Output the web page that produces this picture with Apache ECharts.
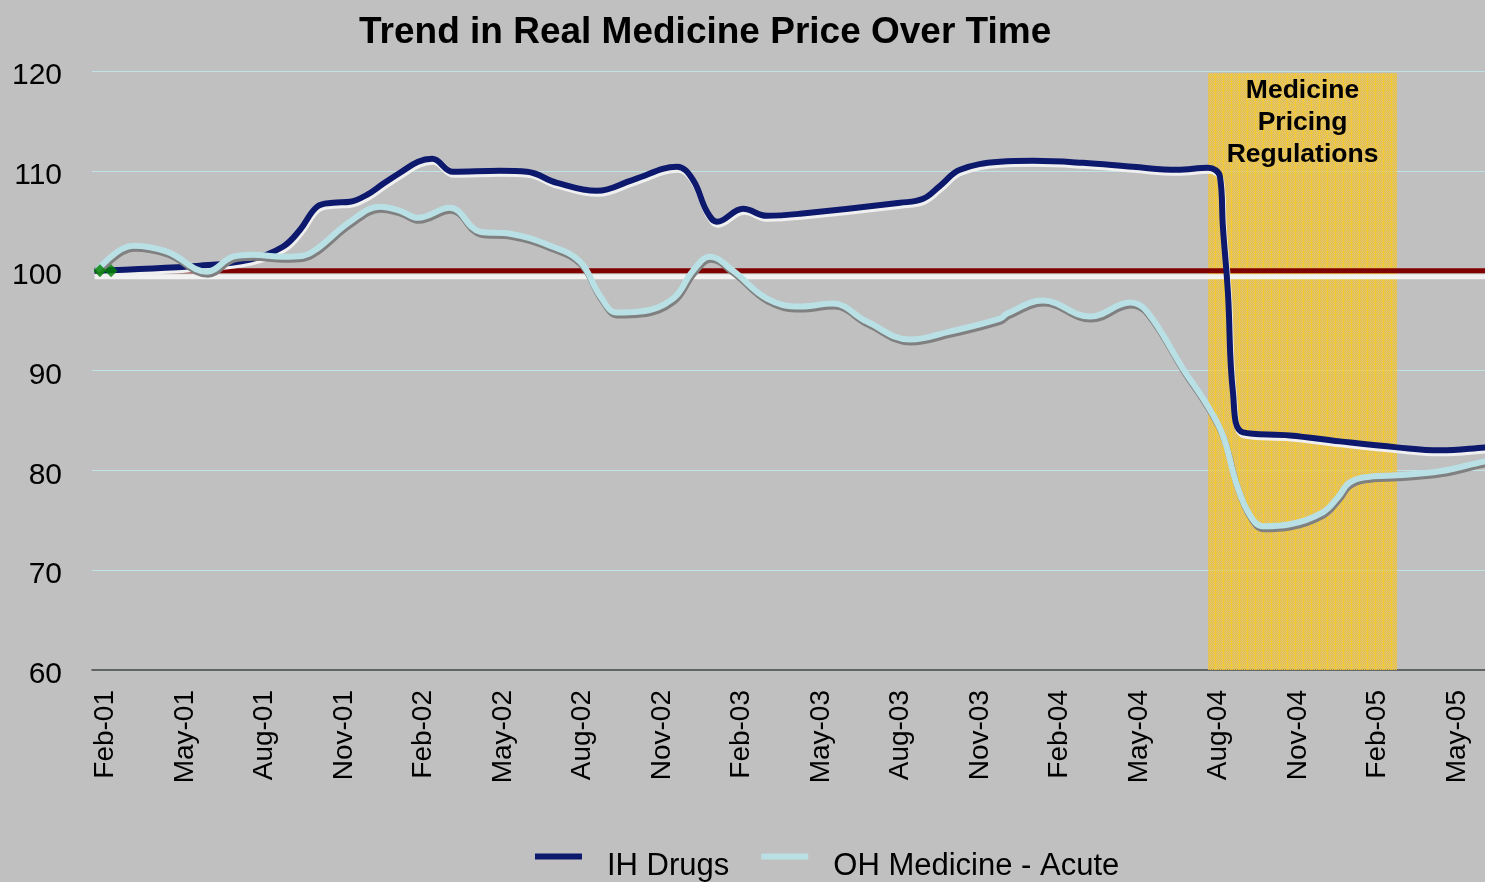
<!DOCTYPE html>
<html>
<head>
<meta charset="utf-8">
<title>Trend in Real Medicine Price Over Time</title>
<script src="https://cdn.jsdelivr.net/npm/echarts@6/dist/echarts.min.js"></script>
<style>
  html, body { margin: 0; padding: 0; background: #c0c0c0; }
  #chart { width: 1485px; height: 882px; }
</style>
</head>
<body>
<div id="chart"></div>
<script>
// monthly categories, Feb-01 .. Jun-05 (labels shown every 3rd month)
const categories = [
  'Feb-01','Mar-01','Apr-01','May-01','Jun-01','Jul-01','Aug-01','Sep-01','Oct-01','Nov-01','Dec-01',
  'Jan-02','Feb-02','Mar-02','Apr-02','May-02','Jun-02','Jul-02','Aug-02','Sep-02','Oct-02','Nov-02','Dec-02',
  'Jan-03','Feb-03','Mar-03','Apr-03','May-03','Jun-03','Jul-03','Aug-03','Sep-03','Oct-03','Nov-03','Dec-03',
  'Jan-04','Feb-04','Mar-04','Apr-04','May-04','Jun-04','Jul-04','Aug-04','Sep-04','Oct-04','Nov-04','Dec-04',
  'Jan-05','Feb-05','Mar-05','Apr-05','May-05','Jun-05'
];

// x = months from start of Feb-01, y = real price index
const ihMonths = [0.1, 4.07, 5.96, 7.2, 7.85, 8.49, 9.09, 9.73, 10.37, 10.98, 11.62, 12.3, 12.83, 13.62,
  15.39, 16.41, 17.54, 19.05, 20.41, 22.07, 22.67, 23.2, 23.58, 24.56, 25.46, 26.71, 30.48, 31.35, 31.99,
  32.74, 34.25, 35.5, 37.38, 39.27, 40.93, 42.1, 42.55, 42.66, 42.85, 43.04, 43.42, 45.19, 47.08, 49.23,
  50.85, 52.55, 53];
const ihValues = [100, 100.5, 101.1, 102.4, 104.1, 106.4, 106.8, 106.9, 107.6, 108.7, 109.8, 110.9, 111.2,
  109.9, 110.0, 109.9, 108.8, 108.0, 109.1, 110.4, 109.1, 105.9, 104.9, 106.2, 105.5, 105.7, 106.8, 107.2,
  108.5, 110.1, 110.9, 111.0, 110.8, 110.4, 110.1, 110.3, 109.4, 104.4, 97.8, 87.8, 83.8, 83.5, 82.9, 82.3,
  82.0, 82.3, 82.4];

const ohMonths = [0.19, 1.55, 2.83, 4.34, 5.32, 6.07, 7.2, 7.96, 8.49, 9.73, 10.86, 11.62, 12.3, 13.5,
  14.64, 15.77, 17.28, 18.41, 19.16, 19.8, 20.67, 21.92, 22.67, 23.31, 24.18, 25.46, 26.71, 27.95, 29.23,
  30.86, 32.36, 34.25, 34.52, 35.87, 37.65, 39.16, 39.8, 41.15, 42.1, 42.66, 43.19, 43.68, 44.17, 45.19,
  46.43, 47.0, 47.45, 48.32, 49.23, 50.85, 52.55, 53];
const ohValues = [100, 102.5, 101.9, 99.9, 101.4, 101.6, 101.4, 101.5, 102.2, 104.9, 106.4, 106.0, 105.3,
  106.3, 103.9, 103.7, 102.5, 100.9, 97.5, 95.8, 95.9, 97.2, 100.0, 101.4, 100.0, 97.2, 96.4, 96.7, 94.9,
  93.1, 93.9, 95.2, 95.7, 97.0, 95.4, 96.8, 95.9, 90.2, 86.4, 83.5, 78.5, 75.5, 74.4, 74.6, 75.8, 77.3,
  78.8, 79.4, 79.5, 79.9, 80.9, 81.0];

const baseMonths = [0.1, 53];
const baseValues = [100, 100];
const startMarkers = [[0.3, 100], [0.72, 100]];
const regulationSpan = [42.1, 49.23];
const regulationTop = 119.8;

function pairs(xs, ys) { return xs.map((x, i) => [x, ys[i]]); }

// dithered gold grid fill for the regulation band (lets the lines show through)
function bandPattern() {
  const c = document.createElement('canvas');
  c.width = 8; c.height = 7;
  const g = c.getContext('2d');
  for (let y = 0; y < 7; y++) {
    for (let x = 0; x < 8; x++) {
      if (x === 7) {
        g.fillStyle = 'rgba(255,204,10,0.8)';
      } else if (y === 6) {
        g.fillStyle = 'rgba(250,200,30,0.7)';
      } else if ((x + y) % 2 === 0) {
        g.fillStyle = 'rgba(242,196,56,1)';
      } else {
        g.fillStyle = 'rgba(242,196,56,0.45)';
      }
      g.fillRect(x, y, 1, 1);
    }
  }
  return c;
}

const font = "'Liberation Sans', Arial, sans-serif";
const chart = echarts.init(document.getElementById('chart'));

chart.setOption({
  backgroundColor: '#c0c0c0',
  animation: false,
  title: {
    text: 'Trend in Real Medicine Price Over Time',
    left: 354, top: 9,
    textStyle: { fontFamily: font, fontSize: 37, fontWeight: 'bold', color: '#000' }
  },
  legend: {
    left: 535, top: 851, padding: 0,
    // thin bar sitting in the upper part of the item box, as in the original
    icon: 'path://M0,0H47V6H0Z M0,26H0.01V26.01H0Z',
    itemWidth: 47, itemHeight: 26, itemGap: 32,
    data: ['IH Drugs', 'OH Medicine - Acute'],
    textStyle: { fontFamily: font, fontSize: 31, color: '#000', padding: [0, 0, 0, 20] }
  },
  grid: { left: 92, top: 71, width: 1405, height: 599, outerBoundsMode: 'none' },
  xAxis: [{
    type: 'category',
    data: categories,
    boundaryGap: true,
    axisLine: { lineStyle: { color: '#404040', width: 1.5 } },
    axisTick: { interval: 2, length: 8, lineStyle: { color: '#202020' } },
    axisLabel: { interval: 2, rotate: 90, margin: 20, fontFamily: font, fontSize: 28, color: '#000' },
    splitLine: { show: false }
  }, {
    type: 'value', min: 0, max: 53, show: false
  }],
  yAxis: {
    type: 'value', min: 60, max: 120, interval: 10,
    axisLine: { show: false }, axisTick: { show: false },
    axisLabel: { margin: 30, fontFamily: font, fontSize: 30, color: '#000', verticalAlign: 'top', lineHeight: 10 },
    splitLine: { lineStyle: { color: '#bfe4e8', width: 1 } }
  },
  series: [{
    name: 'base', type: 'line', xAxisIndex: 1,
    data: pairs(baseMonths, baseValues),
    symbol: 'none', silent: true, z: 2,
    lineStyle: { color: '#800000', width: 5, shadowColor: '#f2f2f2', shadowOffsetY: 6, shadowBlur: 0 }
  }, {
    name: 'IH Drugs', type: 'line', xAxisIndex: 1,
    data: pairs(ihMonths, ihValues),
    smooth: 0.4, symbol: 'none', z: 3, color: '#0c196c',
    lineStyle: { color: '#0c196c', width: 6, shadowColor: '#f0f0f0', shadowOffsetY: 3, shadowOffsetX: 1, shadowBlur: 0 }
  }, {
    name: 'OH Medicine - Acute', type: 'line', xAxisIndex: 1,
    data: pairs(ohMonths, ohValues),
    smooth: 0.4, symbol: 'none', z: 4, color: '#b9e1e5',
    lineStyle: { color: '#b9e1e5', width: 6, shadowColor: '#808080', shadowOffsetY: 3, shadowOffsetX: 1, shadowBlur: 0 }
  }, {
    name: 'start', type: 'scatter', xAxisIndex: 1,
    data: startMarkers, symbol: 'diamond', symbolSize: 13, z: 5,
    itemStyle: { color: '#008000' }, silent: true
  }, {
    name: 'band', type: 'line', xAxisIndex: 1, data: [], z: 20, zlevel: 1,
    markArea: {
      silent: true,
      itemStyle: { color: { image: bandPattern(), repeat: 'repeat' } },
      label: {
        show: true, position: 'insideTop', distance: 2,
        formatter: 'Medicine\nPricing\nRegulations',
        fontFamily: font, fontSize: 26.5, fontWeight: 'bold', lineHeight: 32, color: '#000', align: 'center'
      },
      data: [[{ xAxis: regulationSpan[0], yAxis: 60 }, { xAxis: regulationSpan[1], yAxis: regulationTop }]]
    }
  }]
});
</script>
</body>
</html>
